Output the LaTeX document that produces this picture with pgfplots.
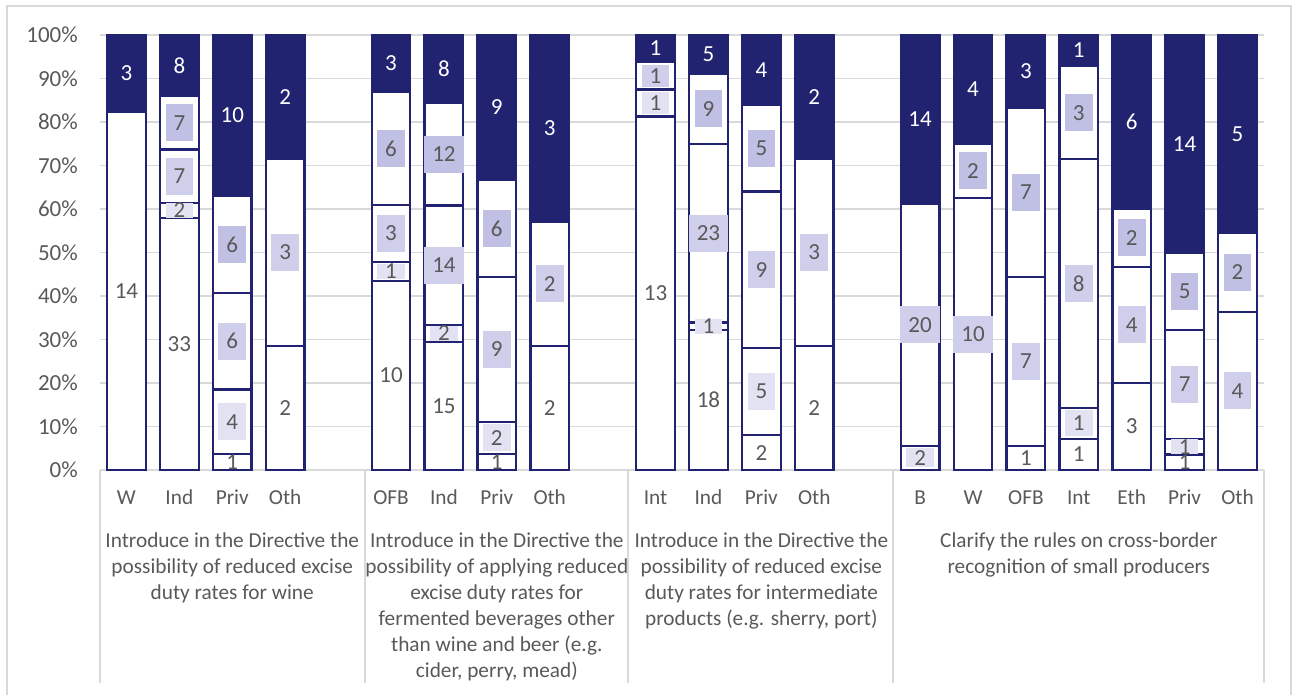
\documentclass[border=0pt]{standalone}
\usepackage{pgfplots}
\pgfplotsset{compat=1.18}
\usepackage{pgfplotstable}
\usepackage{fontspec}
\setmainfont{Carlito}
\definecolor{navy}{RGB}{33,35,113}
\definecolor{txt}{RGB}{89,89,89}
\definecolor{gridc}{RGB}{217,217,217}
\definecolor{lavA}{RGB}{226,226,242}
\definecolor{lavB}{RGB}{207,207,236}
\definecolor{lavC}{RGB}{192,192,228}
\newcommand\f{\fontsize{21.3}{26}\selectfont}
\newcommand\fb{\fontsize{23}{27}\selectfont}

\pgfplotstableread{
x  n1 n2 n3 n4 n5 tot
0  14 0  0  0  3  17
1  33 2  7  7  8  57
2  1  4  6  6  10 27
3  2  0  3  0  2  7
5  10 1  3  6  3  23
6  15 2  14 12 8  51
7  1  2  9  6  9  27
8  2  0  2  0  3  7
10 13 1  1  0  1  16
11 18 1  23 9  5  56
12 2  5  9  5  4  25
13 2  0  3  0  2  7
15 0  2  20 0  14 36
16 0  0  10 2  4  16
17 1  0  7  7  3  18
18 1  1  8  3  1  14
19 3  0  4  2  6  15
20 1  1  7  5  14 28
21 0  0  4  2  5  11
}\data

\pgfplotsset{base/.style={at={(100pt,225pt)}, anchor=south west, scale only axis,
  width=1164pt, height=435pt, xmin=-0.5, xmax=21.5, ymin=0, ymax=100, clip=false,
  /pgf/number format/assume math mode=true}}

\begin{document}
\begin{tikzpicture}[font=\f]
\useasboundingbox (0,0) rectangle (1294pt,695pt);
\draw[gridc, line width=1.3pt] (7pt,0) -- (7pt,689pt) -- (1291pt,689pt) -- (1291pt,0);
\foreach \xx in {100,365,628,893,1264} \draw[gridc, line width=1.3pt] (\xx pt,225pt) -- (\xx pt,12pt);
\begin{axis}[base, ybar stacked, bar width=0.73,
  axis lines*=left, y axis line style={draw=none}, x axis line style={gridc, line width=1.3pt},
  major tick length=0pt,
  ytick={0,10,...,100}, ymajorgrids, grid style={gridc, line width=1.3pt},
  yticklabel={\pgfmathprintnumber{\tick}\%},
  yticklabel style={inner sep=0pt, xshift=-22pt, text=txt, font=\fb},
  xtick={0,1,2,3,5,6,7,8,10,11,12,13,15,16,17,18,19,20,21},
  xticklabels={W,Ind,Priv,Oth,OFB,Ind,Priv,Oth,Int,Ind,Priv,Oth,B,W,OFB,Int,Eth,Priv,Oth},
  xticklabel style={anchor=base, inner sep=0pt, yshift=-35pt, text=txt, font=\f},
]
\addplot[fill=white, draw=navy, line width=2.3pt] table[x=x, y expr=100*\thisrow{n1}/\thisrow{tot}]{\data};
\addplot[fill=white, draw=navy, line width=2.3pt] table[x=x, y expr=100*\thisrow{n2}/\thisrow{tot}]{\data};
\addplot[fill=white, draw=navy, line width=2.3pt] table[x=x, y expr=100*\thisrow{n3}/\thisrow{tot}]{\data};
\addplot[fill=white, draw=navy, line width=2.3pt] table[x=x, y expr=100*\thisrow{n4}/\thisrow{tot}]{\data};
\addplot[fill=navy, draw=navy, line width=2.3pt] table[x=x, y expr=100*\thisrow{n5}/\thisrow{tot}]{\data};

\node[anchor=north, align=center, text=txt, inner sep=0pt, yshift=-63pt] at (axis cs:2,0)
  {Introduce in the Directive the\\possibility of reduced excise\\duty rates for wine};
\node[anchor=north, align=center, text=txt, inner sep=0pt, yshift=-63pt] at (axis cs:7,0)
  {Introduce in the Directive the\\possibility of applying reduced\\excise duty rates for\\fermented beverages other\\than wine and beer (e.g.\\cider, perry, mead)};
\node[anchor=north, align=center, text=txt, inner sep=0pt, yshift=-63pt] at (axis cs:12,0)
  {Introduce in the Directive the\\possibility of reduced excise\\duty rates for intermediate\\products (e.g. sherry, port)};
\node[anchor=north, align=center, text=txt, inner sep=0pt, yshift=-63pt] at (axis cs:18,0)
  {Clarify the rules on cross-border\\recognition of small producers};
\end{axis}

\begin{axis}[base, hide axis, nodes near coords, point meta=explicit,
  every node near coord/.append style={anchor=center, font=\fb, inner sep=0pt, text=txt}]
\addplot[draw=none, mark=none, restrict expr to domain={\thisrow{n1}}{0.5:1000}]
  table[x=x, y expr=50*\thisrow{n1}/\thisrow{tot}, meta=n1]{\data};
\addplot[draw=none, mark=none, restrict expr to domain={\thisrow{n2}}{0.5:1000},
  visualization depends on={435*\thisrow{n2}/\thisrow{tot} \as \seg},
  every node near coord/.append style={fill=lavA, inner xsep=8pt, minimum height={min(37,\seg-5)}}]
  table[x=x, y expr=100*(\thisrow{n1}+\thisrow{n2}/2)/\thisrow{tot}, meta=n2]{\data};
\addplot[draw=none, mark=none, restrict expr to domain={\thisrow{n3}}{0.5:1000},
  visualization depends on={435*\thisrow{n3}/\thisrow{tot} \as \seg},
  every node near coord/.append style={fill=lavB, inner xsep=8pt, minimum height={min(37,\seg-5)}}]
  table[x=x, y expr=100*(\thisrow{n1}+\thisrow{n2}+\thisrow{n3}/2)/\thisrow{tot}, meta=n3]{\data};
\addplot[draw=none, mark=none, restrict expr to domain={\thisrow{n4}}{0.5:1000},
  visualization depends on={435*\thisrow{n4}/\thisrow{tot} \as \seg},
  every node near coord/.append style={fill=lavC, inner xsep=8pt, minimum height={min(37,\seg-5)}}]
  table[x=x, y expr=100*(\thisrow{n1}+\thisrow{n2}+\thisrow{n3}+\thisrow{n4}/2)/\thisrow{tot}, meta=n4]{\data};
\addplot[draw=none, mark=none, restrict expr to domain={\thisrow{n5}}{0.5:1000},
  every node near coord/.append style={text=white}]
  table[x=x, y expr=100*(\thisrow{tot}-\thisrow{n5}/2)/\thisrow{tot}, meta=n5]{\data};
\end{axis}
\end{tikzpicture}
\end{document}
